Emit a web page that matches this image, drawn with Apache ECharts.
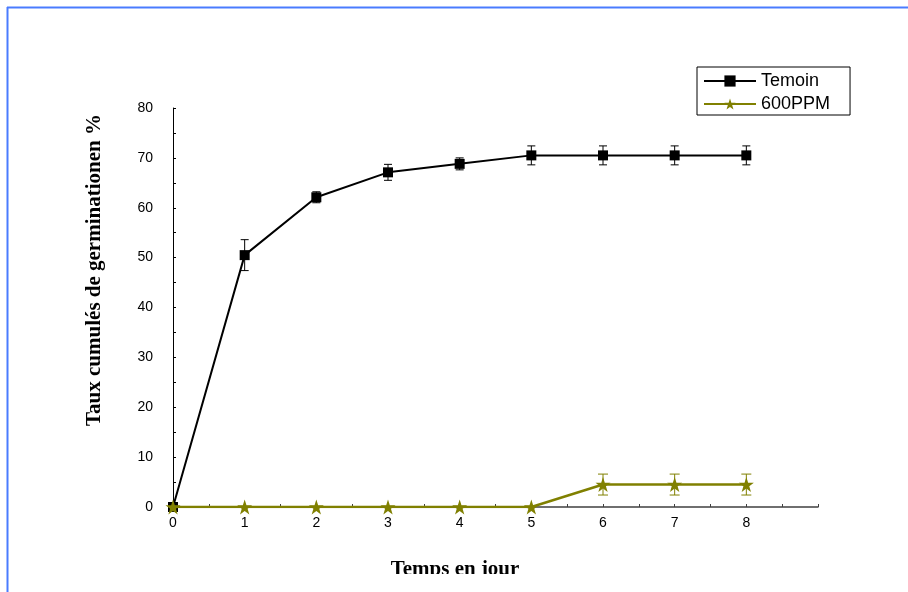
<!DOCTYPE html>
<html>
<head>
<meta charset="utf-8">
<script src="https://cdn.jsdelivr.net/npm/echarts@6/dist/echarts.min.js"></script>
<style>
html,body{margin:0;padding:0;background:#fff;}
#chart{width:908px;height:592px;}
</style>
</head>
<body>
<div id="chart"></div>
<script>
const days = [0, 1, 2, 3, 4, 5, 6, 7, 8];
const temoin = [0, 50.5, 62.1, 67.1, 68.8, 70.5, 70.5, 70.5, 70.5];
const temoinErr = [0, 3.1, 1.1, 1.6, 1.2, 1.9, 1.9, 1.9, 1.9];
const ppm = [0, 0, 0, 0, 0, 0, 4.5, 4.5, 4.5];
const ppmErr = [0, 0, 0, 0, 0, 0, 2.1, 2.1, 2.1];
const seriesNames = ['Temoin', '600PPM'];
const xTitle = 'Temps en jour';
const yTitle = 'Taux cumulés de germinationen %';

const OLIVE = '#808000';
const starPath = 'path://M50,0 L61.8,35.1 L98.9,35.1 L69.1,57.3 L80.3,92.7 L50,71 L19.7,92.7 L30.9,57.3 L1.1,35.1 L38.2,35.1 Z';

function errData(vals, errs) {
  return days.map((d, i) => [d, vals[i], errs[i]]);
}
function errRender(color, cap, lw) {
  return function (params, api) {
    const x = api.value(0), y = api.value(1), e = api.value(2);
    if (!e) return null;
    const top = api.coord([x, y + e]);
    const bot = api.coord([x, y - e]);
    const st = { stroke: color, lineWidth: lw };
    return {
      type: 'group',
      children: [
        { type: 'line', shape: { x1: top[0], y1: top[1], x2: bot[0], y2: bot[1] }, style: st },
        { type: 'line', shape: { x1: top[0] - cap, y1: top[1], x2: top[0] + cap, y2: top[1] }, style: st },
        { type: 'line', shape: { x1: bot[0] - cap, y1: bot[1], x2: bot[0] + cap, y2: bot[1] }, style: st }
      ]
    };
  };
}

const titleFont = { fontFamily: 'Liberation Serif, Times New Roman', fontWeight: 'bold', fontSize: 21, fill: '#000' };

const chart = echarts.init(document.getElementById('chart'), null, { renderer: 'canvas' });
chart.setOption({
  animation: false,
  backgroundColor: '#fff',
  grid: { left: 173, right: 90, top: 108, bottom: 85, containLabel: false },
  legend: {
    orient: 'vertical',
    left: 697, top: 67,
    padding: [5, 20, 2, 6],
    itemGap: 5,
    itemWidth: 52, itemHeight: 14,
    borderColor: '#000', borderWidth: 1,
    backgroundColor: '#fff',
    data: seriesNames,
    textStyle: { fontFamily: 'Liberation Sans, Arial', fontSize: 18, lineHeight: 15, color: '#000' }
  },
  xAxis: {
    type: 'value', min: 0, max: 9, interval: 0.5,
    axisLine: { lineStyle: { color: '#404040', width: 1.5 } },
    axisTick: { inside: true, length: 3, lineStyle: { color: '#404040' } },
    splitLine: { show: false },
    axisLabel: {
      margin: 9, color: '#000', fontFamily: 'Liberation Sans, Arial', fontSize: 14,
      formatter: v => (Number.isInteger(v) && v < 9) ? String(v) : ''
    }
  },
  yAxis: {
    type: 'value', min: 0, max: 80, interval: 5,
    axisLine: { show: true, lineStyle: { color: '#000', width: 1 } },
    axisTick: { show: true, inside: true, length: 3, lineStyle: { color: '#000' } },
    splitLine: { show: false },
    axisLabel: {
      margin: 20, color: '#000', fontFamily: 'Liberation Sans, Arial', fontSize: 14,
      formatter: v => (v % 10 === 0) ? String(v) : ''
    }
  },
  graphic: [
    { type: 'text', x: 455, y: 559, style: Object.assign({ text: xTitle, align: 'center', verticalAlign: 'top' }, titleFont), z: 50 },
    { type: 'text', x: 95, y: 270, rotation: Math.PI / 2, style: Object.assign({ text: yTitle, align: 'center', verticalAlign: 'middle' }, titleFont), z: 50 },
    { type: 'rect', x: 0, y: 574, shape: { width: 908, height: 20 }, style: { fill: '#fff' }, z: 100 },
    { type: 'line', shape: { x1: 7.5, y1: 7, x2: 7.5, y2: 592 }, style: { stroke: '#4a7cff', lineWidth: 2 }, z: 101 },
    { type: 'line', shape: { x1: 7, y1: 7.5, x2: 908, y2: 7.5 }, style: { stroke: '#4a7cff', lineWidth: 2 }, z: 101 }
  ],
  series: [
    {
      name: 'errT', type: 'custom', renderItem: errRender('#000', 4, 1),
      data: errData(temoin, temoinErr), z: 3, silent: true
    },
    {
      name: 'errP', type: 'custom', renderItem: errRender(OLIVE, 5, 1),
      data: errData(ppm, ppmErr), z: 3, silent: true
    },
    {
      name: seriesNames[0], type: 'line',
      data: days.map((d, i) => [d, temoin[i]]),
      symbol: 'rect', symbolSize: 10,
      itemStyle: { color: '#000' },
      lineStyle: { color: '#000', width: 2 }, z: 4
    },
    {
      name: seriesNames[1], type: 'line',
      data: days.map((d, i) => [d, ppm[i]]),
      symbol: starPath, symbolSize: 15,
      itemStyle: { color: OLIVE },
      lineStyle: { color: OLIVE, width: 2.5 }, z: 5
    }
  ]
});
</script>
</body>
</html>
